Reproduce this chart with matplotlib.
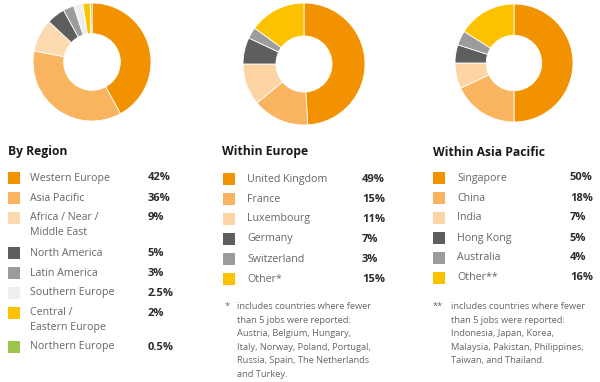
import matplotlib
matplotlib.use("Agg")
import matplotlib.pyplot as plt
from matplotlib.patches import Rectangle

plt.rcParams['font.family'] = ['Open Sans', 'DejaVu Sans']

W, H = 600, 382

region_labels = ["Western Europe", "Asia Pacific", "Africa / Near /\nMiddle East", "North America",
                 "Latin America", "Southern Europe", "Central /\nEastern Europe", "Northern Europe"]
region_values = [42, 36, 9, 5, 3, 2.5, 2, 0.5]
region_colors = ["#F39200", "#F8B45F", "#FDD9B0", "#5E5E5E", "#9C9C9C", "#EEEEEE", "#FCC200", "#9DC54C"]

europe_labels = ["United Kingdom", "France", "Luxembourg", "Germany", "Switzerland", "Other*"]
europe_values = [49, 15, 11, 7, 3, 15]
europe_note = ("includes countries where fewer\nthan 5 jobs were reported:\nAustria, Belgium, Hungary,\n"
               "Italy, Norway, Poland, Portugal,\nRussia, Spain, The Netherlands\nand Turkey.")

asia_labels = ["Singapore", "China", "India", "Hong Kong", "Australia", "Other**"]
asia_values = [50, 18, 7, 5, 4, 16]
asia_note = ("includes countries where fewer\nthan 5 jobs were reported:\nIndonesia, Japan, Korea,\n"
             "Malaysia, Pakistan, Philippines,\nTaiwan, and Thailand.")

sub_colors = ["#F39200", "#F8B45F", "#FDD4A4", "#5E5E5E", "#9C9C9C", "#FCC200"]

fig = plt.figure(figsize=(W / 100, H / 100), dpi=100)
fig.patch.set_facecolor("white")


def fx(x):
    return x / W


def fy(y):
    return 1 - y / H


def donut(cx, cy, r, values, colors, hole=0.48):
    ax = fig.add_axes([fx(cx - r), fy(cy + r), 2 * r / W, 2 * r / H])
    ax.pie(values, colors=colors, startangle=90, counterclock=False,
           wedgeprops=dict(width=1 - hole, edgecolor="white", linewidth=0.6))
    ax.set_xlim(-1, 1)
    ax.set_ylim(-1, 1)
    ax.set_aspect("auto")
    ax.axis("off")


donut(92, 62, 59, region_values, region_colors)
donut(304, 64, 61, europe_values, sub_colors, hole=0.46)
donut(514, 63, 59, asia_values, sub_colors, hole=0.47)

label_col = "#666666"
pct_col = "#2b2b2b"
fs = 7.7
pfs = 8.0


def pct(v):
    return f"{v:g}%"


def legend_block(x0, title, labels, values, colors, rows_y, sq_x, lab_x, pct_x):
    fig.text(fx(x0), fy(152), title, fontsize=8.7, fontweight="bold", color="#1a1a1a",
             va="center", ha="left")
    for lab, v, c, y in zip(labels, values, colors, rows_y):
        fig.patches.append(Rectangle((fx(sq_x), fy(y + 6)), 12 / W, 12 / H,
                                     transform=fig.transFigure, facecolor=c, edgecolor="none"))
        if "\n" in lab:
            fig.text(fx(lab_x), fy(y - 6), lab, fontsize=fs, color=label_col, va="top",
                     ha="left", linespacing=1.5)
        else:
            fig.text(fx(lab_x), fy(y), lab, fontsize=fs, color=label_col, va="center", ha="left")
        fig.text(fx(pct_x), fy(y), pct(v), fontsize=pfs, fontweight="bold", color=pct_col,
                 va="center", ha="left")


legend_block(8, "By Region", region_labels, region_values, region_colors,
             [178, 198, 218, 253, 273, 293, 313, 347], 8, 30, 148)
legend_block(222, "Within Europe", europe_labels, europe_values, sub_colors,
             [179, 199, 219, 239, 259, 279], 223, 247, 362)
legend_block(433, "Within Asia Pacific", asia_labels, asia_values, sub_colors,
             [178, 198, 218, 238, 258, 278], 433, 457, 570)

nfs = 6.7
fig.text(fx(225), fy(302), "*", fontsize=nfs, color=label_col, va="top", ha="left")
fig.text(fx(237), fy(302), europe_note, fontsize=nfs, color=label_col, va="top", ha="left",
         linespacing=1.66)
fig.text(fx(433), fy(302), "**", fontsize=nfs, color=label_col, va="top", ha="left")
fig.text(fx(451), fy(302), asia_note, fontsize=nfs, color=label_col, va="top", ha="left",
         linespacing=1.66)

fig.savefig("out.png", dpi=100, facecolor="white")
